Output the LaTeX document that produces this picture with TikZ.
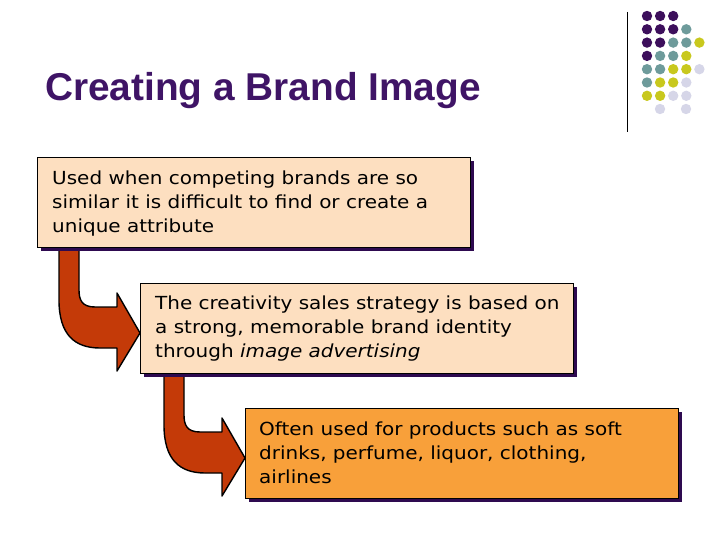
\documentclass[tikz,border=0pt]{standalone}
\usepackage{fontspec}
\setmainfont{DejaVu Sans}[FakeStretch=1.11]
\newfontfamily\titlefont{Liberation Sans}
\definecolor{ttl}{HTML}{3F1466}
\definecolor{pp}{HTML}{3D0F5C}
\definecolor{tl}{HTML}{6E9B9B}
\definecolor{yl}{HTML}{C8C81E}
\definecolor{lv}{HTML}{D6D6E8}
\definecolor{peach}{HTML}{FDDFC0}
\definecolor{orng}{HTML}{F8A03A}
\definecolor{arr}{HTML}{C43A08}
\definecolor{shd}{HTML}{2E0A50}
\begin{document}
\begin{tikzpicture}[x=1pt,y=-1pt,
  txt/.style={anchor=north west,align=left,inner sep=0pt,font=\fontsize{18}{24}\selectfont},
  arrowshape/.style={fill=arr,draw=black,line width=1.4pt,line join=round}]
\useasboundingbox (0,0) rectangle (720,540);
% dots
\foreach \r/\cols in {0/{pp,pp,pp},1/{pp,pp,pp,tl},2/{pp,pp,tl,tl,yl},3/{pp,tl,tl,yl},4/{tl,tl,yl,yl,lv},5/{tl,yl,yl,lv},6/{yl,yl,lv,lv}}{
  \foreach \c [count=\i from 0] in \cols { \fill[\c] (647+13.1*\i,16+13.3*\r) circle (5.2); } }
\fill[lv] (660,109) circle (5.2);
\fill[lv] (686,109) circle (5.2);
\draw[line width=0.8pt] (627,12) coordinate (l1) -- (627,132) coordinate (l2);
% title
\node[anchor=base west,inner sep=0pt,text=ttl,font=\titlefont\bfseries\fontsize{38.8}{44}\selectfont] (title) at (45,101) {Creating a Brand Image};
% arrows
\foreach \dx/\dy in {0/0,105/125}{
\begin{scope}[shift={(\dx,\dy)}]
\draw[arrowshape] (59,248) -- (59,300) .. controls (59,335) and (75,348) .. (100,348) -- (117,348) -- (117,371) -- (140,333) -- (117,293) -- (117,307) -- (95,307) .. controls (82,307) and (79,300) .. (79,290) -- (79,248) -- cycle;
\end{scope}}
% boxes
\foreach \n/\x/\y/\col in {b1/37/157/peach,b2/140/283/peach,b3/245/408/orng}{
  \fill[shd] (\x+4,\y+4) rectangle (\x+437,\y+94);
  \draw[fill=\col,line width=0.8pt] (\x,\y) rectangle (\x+433,\y+90);
}
\node[txt] (t1) at (52,171) {Used when competing brands are so\\similar it is difficult to find or create a\\unique attribute};
\node[txt] (t2) at (155,296) {The creativity sales strategy is based on\\a strong, memorable brand identity\\through \textit{image advertising}};
\node[txt] (t3) at (259,422) {Often used for products such as soft\\drinks, perfume, liquor, clothing,\\airlines};
\end{tikzpicture}
\end{document}
